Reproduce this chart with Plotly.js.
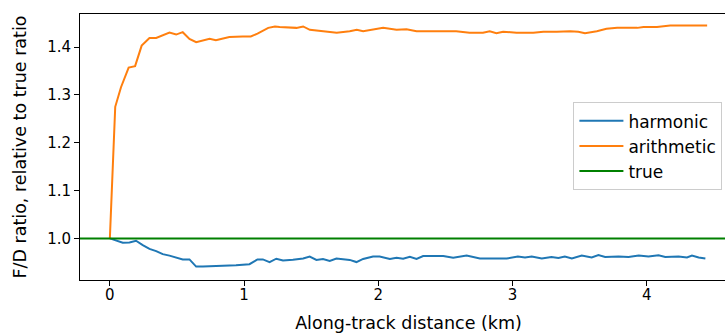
<!DOCTYPE html>
<html>
<head>
<meta charset="utf-8">
<script src="https://cdn.plot.ly/plotly-3.0.1.min.js"></script>
<style>
html, body { margin:0; padding:0; width:725px; height:333px; overflow:hidden; background:#fff; }
#chart { width:740px; height:333px; }
</style>
</head>
<body>
<div id="chart"></div>
<script>
const harmX = [0, 0.034, 0.096, 0.146, 0.195, 0.245, 0.295, 0.345, 0.394, 0.444, 0.494, 0.543, 0.593, 0.643, 0.693, 0.842, 0.94, 1.04, 1.10, 1.14, 1.19, 1.24, 1.29, 1.364, 1.44, 1.489, 1.539, 1.588, 1.638, 1.688, 1.787, 1.837, 1.887, 1.961, 2.01, 2.086, 2.136, 2.185, 2.235, 2.285, 2.334, 2.484, 2.558, 2.658, 2.757, 2.857, 2.957, 3.04, 3.093, 3.143, 3.218, 3.29, 3.342, 3.39, 3.442, 3.516, 3.59, 3.64, 3.69, 3.79, 3.864, 3.94, 4.013, 4.088, 4.138, 4.237, 4.3, 4.337, 4.387, 4.437];
const harmY = [1.0, 0.9965, 0.991, 0.9916, 0.995, 0.986, 0.978, 0.9735, 0.967, 0.964, 0.960, 0.956, 0.956, 0.941, 0.941, 0.942, 0.944, 0.946, 0.956, 0.956, 0.9505, 0.9575, 0.954, 0.9553, 0.958, 0.962, 0.955, 0.957, 0.953, 0.958, 0.955, 0.9505, 0.957, 0.962, 0.962, 0.957, 0.9595, 0.9574, 0.9616, 0.957, 0.963, 0.963, 0.9595, 0.964, 0.958, 0.958, 0.958, 0.962, 0.960, 0.962, 0.958, 0.961, 0.959, 0.962, 0.958, 0.964, 0.960, 0.965, 0.961, 0.962, 0.961, 0.964, 0.962, 0.9645, 0.961, 0.962, 0.960, 0.964, 0.960, 0.958];

const arithX = [0, 0.04, 0.083, 0.14, 0.188, 0.237, 0.295, 0.345, 0.444, 0.494, 0.543, 0.593, 0.643, 0.743, 0.79, 0.89, 0.99, 1.05, 1.10, 1.18, 1.23, 1.265, 1.39, 1.44, 1.49, 1.588, 1.69, 1.787, 1.84, 1.887, 1.94, 2.036, 2.136, 2.21, 2.285, 2.384, 2.48, 2.58, 2.68, 2.78, 2.83, 2.88, 2.93, 3.03, 3.155, 3.23, 3.33, 3.43, 3.49, 3.54, 3.628, 3.70, 3.78, 3.93, 3.976, 4.076, 4.175, 4.325, 4.40, 4.45];
const arithY = [1.0, 1.275, 1.316, 1.357, 1.360, 1.403, 1.419, 1.419, 1.430, 1.426, 1.431, 1.417, 1.410, 1.417, 1.414, 1.421, 1.422, 1.422, 1.428, 1.440, 1.443, 1.442, 1.440, 1.443, 1.436, 1.433, 1.430, 1.433, 1.436, 1.433, 1.436, 1.440, 1.436, 1.437, 1.433, 1.433, 1.433, 1.433, 1.430, 1.430, 1.433, 1.429, 1.432, 1.430, 1.430, 1.432, 1.432, 1.433, 1.432, 1.429, 1.433, 1.438, 1.440, 1.440, 1.442, 1.442, 1.445, 1.445, 1.446, 1.445];

const trueRatio = 1.0;
const seriesNames = ['harmonic', 'arithmetic', 'true'];
const xTicks = [0, 1, 2, 3, 4];
const yTicks = [1.0, 1.1, 1.2, 1.3, 1.4];

const xRange = [-0.2225, 4.6725];
const yRange = [0.913, 1.469];

const fam = 'DejaVu Sans, sans-serif';
const tickFont = {family: fam, size: 15, color: '#000'};
const labelFont = {family: fam, size: 17.5, color: '#000'};
const legendFont = {family: fam, size: 17, color: '#000'};

const traces = [
  {x: harmX, y: harmY, name: seriesNames[0], mode: 'lines', line: {color: '#1f77b4', width: 2}},
  {x: arithX, y: arithY, name: seriesNames[1], mode: 'lines', line: {color: '#ff7f0e', width: 2}},
  {x: xRange, y: xRange.map(() => trueRatio), name: seriesNames[2], mode: 'lines', line: {color: '#008000', width: 2}}
];

const layout = {
  width: 740, height: 333,
  margin: {l: 80, r: 3, t: 14, b: 53},
  paper_bgcolor: '#fff', plot_bgcolor: '#fff',
  font: tickFont,
  showlegend: true,
  legend: {
    x: 0.751, y: 0.668, xanchor: 'left', yanchor: 'top',
    bgcolor: 'rgba(255,255,255,0.8)', bordercolor: '#ccc', borderwidth: 1,
    font: legendFont, itemwidth: 44
  },
  xaxis: {
    range: xRange, tickvals: xTicks, ticktext: xTicks.map(String),
    showline: true, mirror: true, linecolor: '#000', linewidth: 1,
    ticks: 'outside', ticklen: 5, tickcolor: '#000', tickfont: tickFont,
    ticklabelstandoff: -4,
    showgrid: false, zeroline: false,
    title: {text: 'Along-track distance (km)', font: labelFont, standoff: 13}
  },
  yaxis: {
    range: yRange, tickvals: yTicks, ticktext: yTicks.map(v => v.toFixed(1)),
    showline: true, mirror: true, linecolor: '#000', linewidth: 1,
    ticks: 'outside', ticklen: 5, tickcolor: '#000', tickfont: tickFont,
    showgrid: false, zeroline: false,
    title: {text: 'F/D ratio, relative to true ratio', font: labelFont, standoff: 16}
  }
};

Plotly.newPlot('chart', traces, layout, {displayModeBar: false, staticPlot: true});
</script>
</body>
</html>
